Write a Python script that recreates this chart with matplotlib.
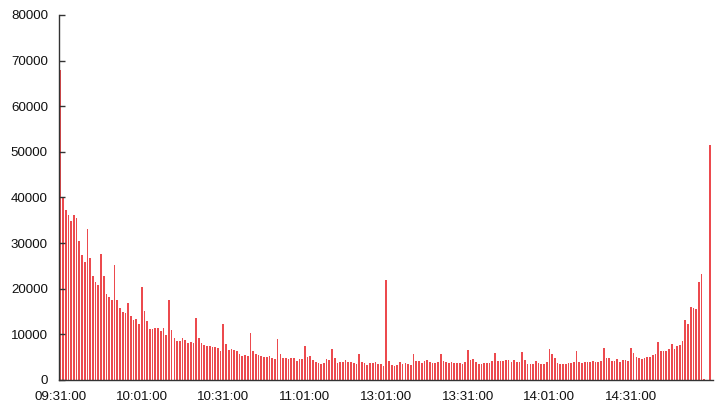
import matplotlib
matplotlib.use("Agg")
import matplotlib.pyplot as plt
import numpy as np

# minute labels: morning 09:31-11:30, afternoon 13:01-15:00
def minutes(h0, m0, h1, m1):
    out = []
    t = h0 * 60 + m0
    end = h1 * 60 + m1
    while t <= end:
        out.append(f"{t // 60:02d}:{t % 60:02d}:00")
        t += 1
    return out

times = minutes(9, 31, 11, 30) + minutes(13, 1, 15, 0)

volumes = [
    68000, 40000, 37200, 36100, 34900, 36100, 35500, 30400, 27400, 25800,
    33200, 26800, 22800, 21500, 20900, 27700, 22800, 18800, 18200, 17500,
    25200, 17500, 15800, 14800, 14700, 16900, 14000, 13100, 13300, 12300,
    20300, 15200, 12900, 11200, 11100, 11400, 11400, 10700, 11400, 9800,
    17500, 11000, 9100, 8500, 8500, 9300, 8800, 8100, 8300, 8100,
    13600, 9100, 8100, 7600, 7500, 7400, 7200, 7200, 7000, 6400,
    12200, 8000, 6600, 6900, 6600, 6400, 5800, 5300, 5500, 5300,
    10200, 6400, 5600, 5400, 5200, 5100, 5000, 5200, 4800, 4500,
    9000, 5800, 4800, 4800, 4600, 4800, 4800, 4200, 4700, 4600,
    7500, 5000, 5200, 4400, 4000, 3700, 3500, 3700, 4500, 4400,
    6800, 4800, 3700, 4000, 3900, 4400, 3900, 3900, 3700, 3500,
    5800, 3900, 3700, 3300, 3800, 3700, 3900, 3600, 3400, 3100,
    21900, 4100, 3300, 3100, 3300, 3900, 3400, 3700, 3400, 3200,
    5800, 4200, 4200, 3700, 4100, 4400, 3900, 3700, 3700, 3900,
    5600, 4200, 3900, 3700, 3900, 3700, 3700, 3700, 3500, 4000,
    6600, 4400, 4700, 3900, 3500, 3500, 3700, 3700, 3700, 4200,
    5900, 4200, 4200, 4200, 4400, 4400, 3900, 4400, 3900, 3900,
    6100, 4400, 3500, 3500, 3500, 4100, 3700, 3400, 3500, 3900,
    6800, 5700, 4800, 3700, 3400, 3500, 3400, 3700, 3700, 3900,
    6300, 3900, 3700, 3900, 3900, 3900, 4200, 3900, 3900, 4100,
    7100, 4900, 4800, 4200, 4200, 4700, 3900, 4400, 4400, 4200,
    7100, 5900, 5100, 4800, 4500, 4800, 5100, 5100, 5500, 5800,
    8400, 6300, 6300, 6400, 6800, 8000, 6900, 7400, 7700, 8600,
    13100, 12300, 16100, 15800, 15600, 21400, 23200, 200, 0, 51500,
]

tick_labels = ["09:31:00", "10:01:00", "10:31:00", "11:01:00",
               "13:01:00", "13:31:00", "14:01:00", "14:31:00"]
y_ticks = [0, 10000, 20000, 30000, 40000, 50000, 60000, 70000, 80000]

plt.rcParams["font.family"] = ["Liberation Sans", "DejaVu Sans"]

fig = plt.figure(figsize=(7.2, 4.08), dpi=100)
ax = fig.add_axes([59 / 720, 1 - 380 / 408, 654 / 720, 365 / 408])

x = np.arange(len(volumes))
ax.bar(x, volumes, width=0.62, color="#ec4a4e", linewidth=0)

ax.set_xlim(-0.45, len(volumes) + 0.2)
ax.set_ylim(0, 80000)
ax.set_yticks(y_ticks)
ax.set_yticklabels([str(v) for v in y_ticks])
ax.set_xticks([times.index(t) for t in tick_labels])
ax.set_xticklabels(tick_labels)

for s in ["top", "right"]:
    ax.spines[s].set_visible(False)
for s in ["left", "bottom"]:
    ax.spines[s].set_color("#333333")
    ax.spines[s].set_linewidth(1.0)

ax.tick_params(axis="y", direction="in", length=4, width=1, color="#333333",
               labelsize=9.6, pad=8, labelcolor="#111111")
ax.tick_params(axis="x", length=0, labelsize=9.6, pad=8, labelcolor="#111111")

fig.savefig("out.png", dpi=100)
